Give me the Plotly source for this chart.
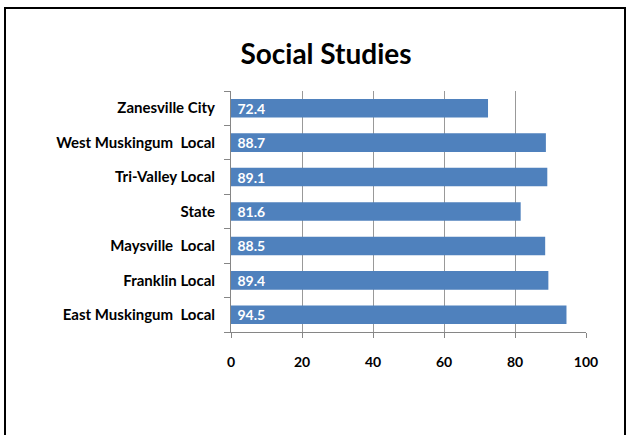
import plotly.graph_objects as go

categories = ["East Muskingum  Local", "Franklin Local", "Maysville  Local", "State",
              "Tri-Valley Local", "West Muskingum  Local", "Zanesville City"]
values = [94.5, 89.4, 88.5, 81.6, 89.1, 88.7, 72.4]
tick_vals = [0, 20, 40, 60, 80, 100]

W, H = 627, 435
L, R, T, B = 231, 41, 91, 103
pw, ph = W - L - R, H - T - B

def px_to_paper(x, y):
    return (x - L) / pw, (H - B - y) / ph

fig = go.Figure(go.Bar(
    y=categories, x=values, orientation="h",
    marker=dict(color="#4F81BD", line=dict(width=0)),
    text=[f"\u00a0{v:.1f}" for v in values],
    textposition="inside", insidetextanchor="start", constraintext="none",
    textfont=dict(color="white", size=14, family="Lato", weight="bold"),
    width=0.54,
))

x0, y0 = px_to_paper(5, 8)
x1, y1 = px_to_paper(625, 445)
fig.add_shape(type="rect", xref="paper", yref="paper", x0=x0, y0=y1, x1=x1, y1=y0,
              line=dict(color="black", width=2))

fig.update_layout(
    width=W, height=H,
    margin=dict(l=L, r=R, t=T, b=B),
    paper_bgcolor="white", plot_bgcolor="white",
    title=dict(text="<b>Social Studies</b>", x=326 / W, xanchor="center", y=1 - 54 / H, yanchor="middle",
               font=dict(size=28, family="Lato", color="black")),
    showlegend=False,
    xaxis=dict(range=[0, 100], tickvals=tick_vals, showgrid=True, gridcolor="#999999", gridwidth=1,
               showline=True, linecolor="#868686", ticks="outside", ticklen=5, tickcolor="#868686",
               ticklabelstandoff=12,
               tickfont=dict(size=14, family="Lato", color="black", weight="bold"),
               zeroline=False, mirror=False),
    yaxis=dict(showline=True, linecolor="#868686", ticks="outside", ticklen=6, tickcolor="#868686",
               tickson="boundaries", showgrid=False, ticklabelstandoff=12,
               tickfont=dict(size=15, family="Lato", color="black", weight="bold"),
               categoryorder="array", categoryarray=categories),
)

fig.write_html("out.html", config={"displayModeBar": False},
               post_script="document.body.style.margin='0px';")
